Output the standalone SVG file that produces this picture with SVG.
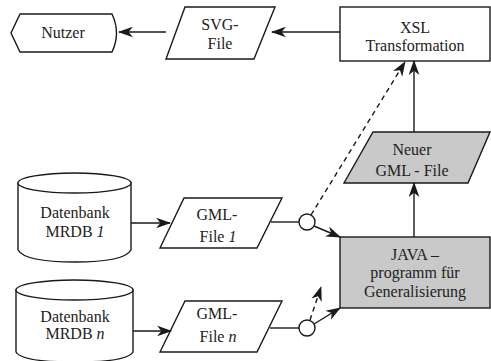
<svg xmlns="http://www.w3.org/2000/svg" width="491" height="361" viewBox="0 0 491 361">
<defs>
<marker id="ah" viewBox="0 0 14 10" refX="13" refY="5" markerWidth="15" markerHeight="11" markerUnits="userSpaceOnUse" orient="auto">
<path d="M0,0 L14,5 L0,10 L4,5 z" fill="#1a1a1a"/>
</marker>
<style>
.s{fill:#fff;stroke:#1a1a1a;stroke-width:1.4}
.g{fill:#c9c9c9;stroke:#1a1a1a;stroke-width:1.4}
.c{fill:none;stroke:#1a1a1a;stroke-width:1.4}
.d{fill:none;stroke:#1a1a1a;stroke-width:1.4;stroke-dasharray:5,4}
.i{font-style:italic}
</style>
</defs>
<rect width="491" height="361" fill="#fff"/>
<g font-family="Liberation Serif, serif" font-size="16" fill="#222" text-anchor="middle">
<g id="nutzer">
<path class="s" d="M11,33 L20,14 L112,14 Q121,33 112,52 L20,52 Z"/>
<text x="63" y="38">Nutzer</text>
</g>
<g id="svgfile">
<path class="s" d="M185,7 L275,7 L254,59 L166,59 Z"/>
<text x="220" y="30">SVG-</text>
<text x="220" y="49">File</text>
</g>
<g id="xsl">
<rect class="s" x="340" y="7" width="150" height="54"/>
<text x="415" y="33">XSL</text>
<text x="415" y="51">Transformation</text>
</g>
<g id="neuer">
<path class="g" d="M373,132 L490,132 L468,183 L344,183 Z"/>
<text x="412" y="155">Neuer</text>
<text x="412" y="176">GML - File</text>
</g>
<g id="java">
<rect class="g" x="340" y="237" width="150" height="71"/>
<text x="415" y="260">JAVA –</text>
<text x="415" y="278">programm für</text>
<text x="415" y="297">Generalisierung</text>
</g>
<g id="db1">
<path class="s" d="M18,183 L18,250 C22,257 40,262 75,262 C110,262 127,257 131,250 L131,183 Z"/>
<ellipse class="s" cx="74.5" cy="183" rx="56.5" ry="10"/>
<text x="75" y="218">Datenbank</text>
<text x="75" y="237">MRDB <tspan class="i">1</tspan></text>
</g>
<g id="dbn">
<path class="s" d="M16,290 L16,352 C20,359 40,362 75,362 C110,362 129,359 133,352 L133,290 Z"/>
<ellipse class="s" cx="74.5" cy="290" rx="58.5" ry="10"/>
<text x="75" y="322">Datenbank</text>
<text x="75" y="339">MRDB <tspan class="i">n</tspan></text>
</g>
<g id="gml1">
<path class="s" d="M184,198 L282,198 L257,248 L160,248 Z"/>
<text x="217" y="220">GML-</text>
<text x="218" y="242">File <tspan class="i">1</tspan></text>
</g>
<g id="gmln">
<path class="s" d="M185,301 L282,301 L257,352 L160,352 Z"/>
<text x="217" y="319">GML-</text>
<text x="218" y="342">File <tspan class="i">n</tspan></text>
</g>
</g>
<g id="connectors">
<line class="c" x1="166" y1="32" x2="119" y2="32" marker-end="url(#ah)"/>
<line class="c" x1="340" y1="32" x2="272" y2="32" marker-end="url(#ah)"/>
<line class="c" x1="414" y1="132" x2="414" y2="61" marker-end="url(#ah)"/>
<line class="c" x1="414" y1="237" x2="414" y2="183" marker-end="url(#ah)"/>
<line class="c" x1="131" y1="223" x2="170" y2="223" marker-end="url(#ah)"/>
<line class="c" x1="133" y1="331" x2="171" y2="331" marker-end="url(#ah)"/>
<line class="c" x1="271" y1="222" x2="299" y2="222"/>
<circle class="s" cx="307" cy="222" r="8"/>
<line class="c" x1="314" y1="226" x2="340" y2="237" marker-end="url(#ah)"/>
<line class="d" x1="311" y1="215" x2="405" y2="62" marker-end="url(#ah)"/>
<line class="c" x1="270" y1="328" x2="299" y2="328"/>
<circle class="s" cx="307" cy="328" r="8"/>
<line class="c" x1="314" y1="324" x2="340" y2="308" marker-end="url(#ah)"/>
<line class="d" x1="310" y1="320" x2="321" y2="287" marker-end="url(#ah)"/>
</g>
</svg>
